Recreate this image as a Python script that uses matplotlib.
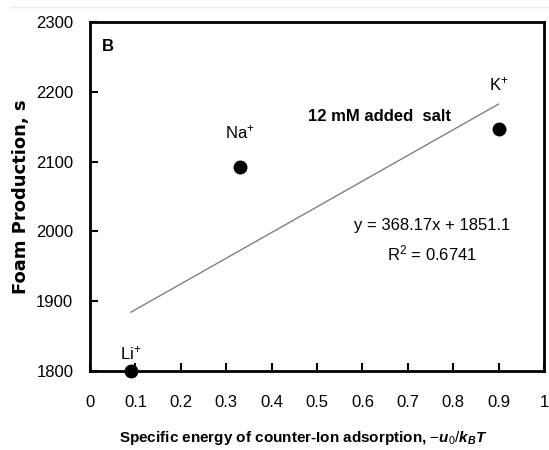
import matplotlib.pyplot as plt
import numpy as np

# Datos
ions = ['Li$^{+}$', 'Na$^{+}$', 'K$^{+}$']
energy = [0.09, 0.33, 0.90]
foam = [1800, 2092, 2147]

# Recta de ajuste (del propio grafico)
slope, intercept = 368.17, 1851.1
r2 = 0.6741

plt.rcParams['font.family'] = ['Liberation Sans', 'DejaVu Sans']
plt.rcParams['mathtext.fontset'] = 'custom'
plt.rcParams['mathtext.it'] = 'Liberation Sans:italic:bold'
plt.rcParams['mathtext.rm'] = 'Liberation Sans'
plt.rcParams['mathtext.bf'] = 'Liberation Sans:bold'

fig = plt.figure(figsize=(5.49, 4.5), dpi=100)
ax = fig.add_axes([90/549, 1 - 371/450, 454/549, 349/450])

# linea gris tenue arriba
fig.add_artist(plt.Line2D([10/549, 1], [1 - 7/450, 1 - 7/450], color='#e6efe8', lw=1))

# recta de tendencia
xl = np.array([energy[0], energy[-1]])
ax.plot(xl, slope * xl + intercept, color='#808080', lw=1)

# puntos
ax.plot(energy, foam, 'o', color='black', ms=9, clip_on=False, zorder=5)

# etiquetas de iones
offs = [(0, 13), (0, 25), (0, 32)]
for x, y, lab, (dx, dy) in zip(energy, foam, ions, offs):
    ax.annotate(lab, (x, y), xytext=(dx, dy), textcoords='offset points',
                ha='center', va='center', fontsize=12)

ax.text(0.026, 0.931, 'B', transform=ax.transAxes, fontsize=12,
        fontweight='bold', va='center')
ax.text(0.637, 2164, '12 mM added  salt', fontsize=12, fontweight='bold',
        ha='center', va='center')
ax.text(0.753, 2009, 'y = 368.17x + 1851.1', fontsize=12, ha='center', va='center')
ax.text(0.753, 1969, 'R$^{2}$ = %.4f' % r2, fontsize=12, ha='center', va='center')

ax.set_xlim(0, 1)
ax.set_ylim(1800, 2300)
ax.set_xticks(np.arange(0, 1.01, 0.1))
ax.set_xticklabels(['0', '0.1', '0.2', '0.3', '0.4', '0.5', '0.6', '0.7', '0.8', '0.9', '1'])
ax.set_yticks(np.arange(1800, 2301, 100))
ax.tick_params(direction='in', length=6, width=1.5, labelsize=12)
ax.tick_params(axis='x', pad=17)
ax.tick_params(axis='y', pad=12)
for s in ax.spines.values():
    s.set_linewidth(2)

ax.set_ylabel('Foam Production, s', fontsize=13, fontweight='bold',
              family=['DejaVu Sans'])
ax.yaxis.set_label_coords(-0.132, 0.5)
ax.set_xlabel('Specific energy of counter-Ion adsorption, $-u_0/k_BT$',
              fontsize=11, fontweight='bold')
ax.xaxis.set_label_coords(0.469, -0.165)

fig.savefig('out.png', dpi=100)
